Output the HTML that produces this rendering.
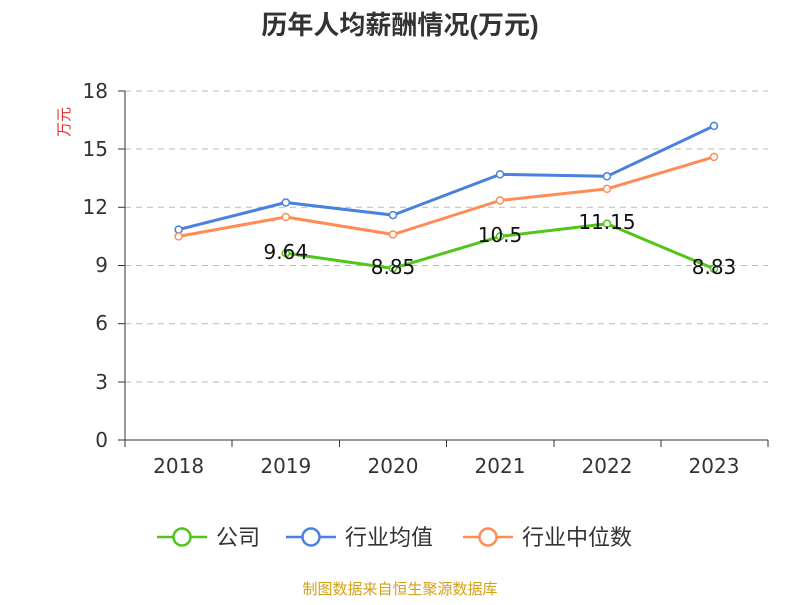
<!DOCTYPE html>
<html><head><meta charset="utf-8"><style>
body{margin:0;background:#fff;}
svg text{font-family:"DejaVu Sans","Noto Sans CJK SC",sans-serif;}
.cjk{font-family:"Liberation Sans","Noto Sans CJK SC",sans-serif;}
</style></head><body>
<svg width="800" height="600" xmlns="http://www.w3.org/2000/svg">
<text class="cjk" x="400" y="34" text-anchor="middle" font-size="26" font-weight="bold" fill="#333">历年人均薪酬情况(万元)</text>
<text class="cjk" transform="translate(69,122) rotate(-90)" text-anchor="middle" font-size="15" fill="#e03030">万元</text>
<g stroke="#bbb" stroke-dasharray="6,5" stroke-width="1">
<line x1="125" x2="768" y1="91" y2="91"/><line x1="125" x2="768" y1="149" y2="149"/>
<line x1="125" x2="768" y1="207.3" y2="207.3"/><line x1="125" x2="768" y1="265.5" y2="265.5"/>
<line x1="125" x2="768" y1="323.7" y2="323.7"/><line x1="125" x2="768" y1="382" y2="382"/>
</g>
<g stroke="#333" stroke-width="1">
<line x1="125" x2="125" y1="91" y2="440"/><line x1="125" x2="768" y1="440" y2="440"/>
<line x1="118" x2="125" y1="91" y2="91"/><line x1="118" x2="125" y1="149" y2="149"/><line x1="118" x2="125" y1="207.3" y2="207.3"/><line x1="118" x2="125" y1="265.5" y2="265.5"/><line x1="118" x2="125" y1="323.7" y2="323.7"/><line x1="118" x2="125" y1="382" y2="382"/><line x1="118" x2="125" y1="440" y2="440"/>
<line x1="125" x2="125" y1="440" y2="447"/><line x1="232" x2="232" y1="440" y2="447"/><line x1="339.5" x2="339.5" y1="440" y2="447"/><line x1="446.5" x2="446.5" y1="440" y2="447"/><line x1="554" x2="554" y1="440" y2="447"/><line x1="661" x2="661" y1="440" y2="447"/><line x1="768" x2="768" y1="440" y2="447"/>
</g>
<g font-size="20" fill="#333" text-anchor="end">
<text x="108" y="98">18</text><text x="108" y="156">15</text><text x="108" y="214">12</text><text x="108" y="272">9</text><text x="108" y="330">6</text><text x="108" y="389">3</text><text x="108" y="447">0</text>
</g>
<g font-size="20" fill="#333" text-anchor="middle">
<text x="178.6" y="473">2018</text><text x="285.8" y="473">2019</text><text x="393" y="473">2020</text><text x="500" y="473">2021</text><text x="607" y="473">2022</text><text x="714" y="473">2023</text>
</g>
<g fill="none" stroke-width="3" stroke-linejoin="round">
<polyline stroke="#4a80e0" points="178.6,229.6 285.8,202.5 393,215.1 500,174.4 607,176.3 714,125.9"/>
<polyline stroke="#ff8c55" points="178.6,236.4 285.8,217 393,234.5 500,200.5 607,188.9 714,156.9"/>
<polyline stroke="#52c41a" points="285.8,253.1 393,268.4 500,236.4 607,223.8 714,268.8"/>
</g>
<g fill="#fff" stroke-width="1.5">
<g stroke="#4a80e0"><circle cx="178.6" cy="229.6" r="3.5"/><circle cx="285.8" cy="202.5" r="3.5"/><circle cx="393" cy="215.1" r="3.5"/><circle cx="500" cy="174.4" r="3.5"/><circle cx="607" cy="176.3" r="3.5"/><circle cx="714" cy="125.9" r="3.5"/></g>
<g stroke="#ff8c55"><circle cx="178.6" cy="236.4" r="3.5"/><circle cx="285.8" cy="217" r="3.5"/><circle cx="393" cy="234.5" r="3.5"/><circle cx="500" cy="200.5" r="3.5"/><circle cx="607" cy="188.9" r="3.5"/><circle cx="714" cy="156.9" r="3.5"/></g>
<g stroke="#52c41a"><circle cx="285.8" cy="253.1" r="3.5"/><circle cx="393" cy="268.4" r="3.5"/><circle cx="500" cy="236.4" r="3.5"/><circle cx="607" cy="223.8" r="3.5"/><circle cx="714" cy="268.8" r="3.5"/></g>
</g>
<g font-size="20" fill="#111" text-anchor="middle">
<text x="285.8" y="259">9.64</text><text x="393" y="274">8.85</text><text x="500" y="242">10.5</text><text x="607" y="229">11.15</text><text x="714" y="274">8.83</text>
</g>
<g stroke-width="2.5" fill="#fff">
<line x1="157" x2="207" y1="537" y2="537" stroke="#52c41a"/><circle cx="182" cy="537" r="8.5" stroke="#52c41a"/>
<line x1="286" x2="336" y1="537" y2="537" stroke="#4a80e0"/><circle cx="311" cy="537" r="8.5" stroke="#4a80e0"/>
<line x1="463" x2="513" y1="537" y2="537" stroke="#ff8c55"/><circle cx="488" cy="537" r="8.5" stroke="#ff8c55"/>
</g>
<g class="cjk" font-size="22" fill="#333">
<text class="cjk" x="216" y="545">公司</text><text class="cjk" x="345" y="545">行业均值</text><text class="cjk" x="522" y="545">行业中位数</text>
</g>
<text class="cjk" x="400" y="594" text-anchor="middle" font-size="15" fill="#d4a017">制图数据来自恒生聚源数据库</text>
</svg>
</body></html>
